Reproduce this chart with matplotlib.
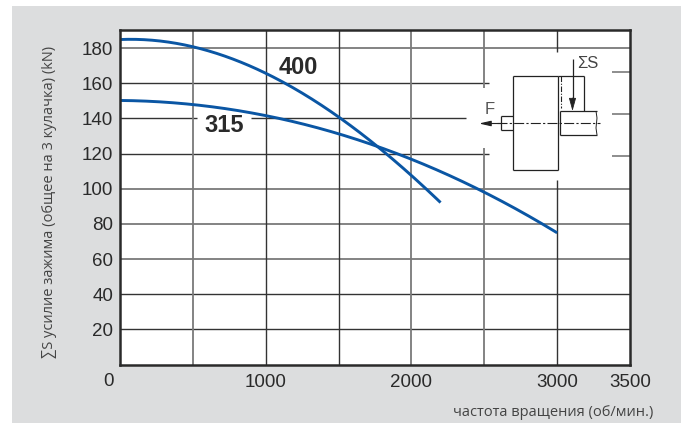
import matplotlib
matplotlib.use("Agg")
import matplotlib.pyplot as plt
import numpy as np
from matplotlib.patches import Rectangle

W, H = 681, 423
# values
rpm_400 = [0, 230, 500, 690, 870, 1000, 1120, 1260, 1400, 1500, 1650, 1780, 1920, 2200]
force_400 = [185, 184.2, 180.4, 176.6, 170.8, 165.9, 160.9, 153.3, 146, 141, 131.5, 123.5, 113.5, 92]
rpm_315 = [0, 230, 500, 690, 870, 1000, 1190, 1500, 1780, 1920, 2060, 2200, 2490, 2750, 3000]
force_315 = [150, 149.9, 148.2, 145.7, 143.4, 141.4, 138.1, 131.5, 123.5, 119.6, 114.8, 109.7, 98.3, 86.9, 75]
x_ticks = [1000, 2000, 3000, 3500]
y_ticks = [20, 40, 60, 80, 100, 120, 140, 160, 180]
label_400 = "400"
label_315 = "315"
xlabel = "частота вращения (об/мин.)"
ylabel = "∑S усилие зажима (общее на 3 кулачка) (kN)"

GRAY = "#dcddde"; BLUE = "#0a56a4"; DARK = "#2a2a2a"; G1 = "#7a7a7a"; G2 = "#333333"
SANS = "Liberation Sans"

fig = plt.figure(figsize=(W/100, H/100), dpi=100, facecolor="white")
fig.add_artist(Rectangle((12/W, 0), 1-12/W, 1-6/H, transform=fig.transFigure, fc=GRAY, ec="none", zorder=-5))
L, R, T, B = 120, 630, 30.5, 364.5
ax = fig.add_axes([L/W, 1-B/H, (R-L)/W, (B-T)/H], facecolor="white")
ax.set_xlim(0, 3500)
ax.set_ylim(0, 190)
for s in ax.spines.values():
    s.set_linewidth(1.8); s.set_color(DARK); s.set_zorder(6)

def px(x, y):
    return ((x-L)/(R-L), (B-y)/(B-T))

def xv(x):
    return (x-L)/(R-L)*3500

def yv(y):
    return (B-y)/(B-T)*190

def seg(x0, y0, x1, y1, lw=0.9, c="#222222", ls="-", z=4):
    a, b = px(x0, y0), px(x1, y1)
    ax.plot([a[0], b[0]], [a[1], b[1]], transform=ax.transAxes, lw=lw, color=c, ls=ls,
            zorder=z, clip_on=False, solid_capstyle="butt")

# horizontal grid: value, spans, style
h_grid = {
    180: ([(0, 3500)], G1, 1.3), 160: ([(0, xv(489))], G2, 1.0),
    140: ([(0, xv(197)), (xv(251), xv(466))], G2, 1.0), 120: ([(0, xv(489))], G2, 1.0),
    100: ([(0, 3500)], G1, 1.3), 80: ([(0, 3500)], G1, 1.3),
    60: ([(0, 3500)], G1, 1.3), 40: ([(0, 3500)], G2, 1.0), 20: ([(0, 3500)], G2, 1.0),
}
for v, (spans, c, lw) in h_grid.items():
    for a, b in spans:
        ax.hlines(v, a, b, color=c, lw=lw, zorder=1)
# vertical grid
v_grid = {
    500: ([(0, 190)], G1, 1.3), 1000: ([(0, 190)], G2, 1.0), 1500: ([(0, 190)], G2, 1.0),
    2000: ([(0, 190)], G1, 1.3), 2500: ([(0, yv(148)), (yv(88), 190)], G1, 1.3),
    3000: ([(0, yv(180)), (yv(52), 190)], G2, 1.0),
}
for v, (spans, c, lw) in v_grid.items():
    for a, b in spans:
        ax.vlines(v, a, b, color=c, lw=lw, zorder=1)
# short stubs on the right border
for y in (72, 114, 156):
    seg(612, y, 630, y, 1.2, G1, z=1)

# inset diagram
seg(513, 76, 513, 170.5); seg(513, 76, 557.5, 76)
seg(557.5, 76, 557.5, 170.5); seg(513, 170.5, 557.5, 170.5)
seg(501, 116, 513, 116); seg(501, 130, 513, 130); seg(501, 116, 501, 130)
seg(557.5, 76, 584, 76); seg(584, 76, 584, 111)
seg(560, 111, 597, 111); seg(560, 135, 597, 135); seg(560, 111, 560, 135)
seg(596, 111, 597, 118, 0.7); seg(597, 118, 596, 128, 0.7); seg(596, 128, 597, 135, 0.7)
seg(560.5, 76, 560.5, 108, 0.8, ls=(0, (5, 1.5, 1, 1.5)))
seg(497, 123.5, 600, 123.5, 0.8, ls=(0, (9, 2, 2, 2)))
seg(572.5, 59, 572.5, 100)
ax.annotate("", xy=px(572.5, 111), xytext=px(572.5, 98), xycoords="axes fraction", textcoords="axes fraction",
            arrowprops=dict(arrowstyle="-|>,head_length=0.8,head_width=0.22", color="#222222", lw=0.6, shrinkA=0, shrinkB=0), zorder=5)
ax.annotate("", xy=px(479, 123.5), xytext=px(501, 123.5), xycoords="axes fraction", textcoords="axes fraction",
            arrowprops=dict(arrowstyle="-|>,head_length=0.7,head_width=0.16", color="#222222", lw=0.8, shrinkA=0, shrinkB=0), zorder=5)
ax.text(*px(490, 110), "F", transform=ax.transAxes, fontsize=12, color="#555555", ha="center", va="center", family=SANS, zorder=5)
ax.text(*px(588, 64), "ΣS", transform=ax.transAxes, fontsize=12, color="#444444", ha="center", va="center", family=SANS, zorder=5)

# curves: a smooth line drawn through the read values
for rpm, force in ((rpm_400, force_400), (rpm_315, force_315)):
    coef = np.polyfit(rpm, force, 4)
    xs = np.linspace(rpm[0], rpm[-1], 200)
    ax.plot(xs, np.polyval(coef, xs), color=BLUE, lw=2.1, zorder=3, solid_capstyle="butt")

# curve labels
ax.text(*px(298, 68), label_400, transform=ax.transAxes, fontsize=17, fontweight="bold", color=DARK, ha="center", va="center", family=SANS, zorder=5)
ax.text(*px(224, 125), label_315, transform=ax.transAxes, fontsize=17, fontweight="bold", color=DARK, ha="center", va="center", family=SANS, zorder=5)

# ticks
ax.set_xticks(x_ticks)
ax.set_yticks(y_ticks)
ax.tick_params(length=0, labelsize=13.5, labelcolor=DARK)
ax.tick_params(axis="y", pad=5)
ax.tick_params(axis="x", pad=7)
for t in ax.get_xticklabels() + ax.get_yticklabels():
    t.set_family(SANS)
fig.text(108/W, 1-381/H, "0", fontsize=13.5, color=DARK, ha="center", va="center", family=SANS)

fig.text(653/W, 1-412/H, xlabel, fontsize=10.5, color="#444444", ha="right", va="center", family="Open Sans")
fig.text(50/W, 1-202/H, ylabel, fontsize=10.5, color="#444444", rotation=90, ha="center", va="center", family=["Open Sans", "DejaVu Sans"])

fig.savefig("out.png", dpi=100, facecolor=fig.get_facecolor())
